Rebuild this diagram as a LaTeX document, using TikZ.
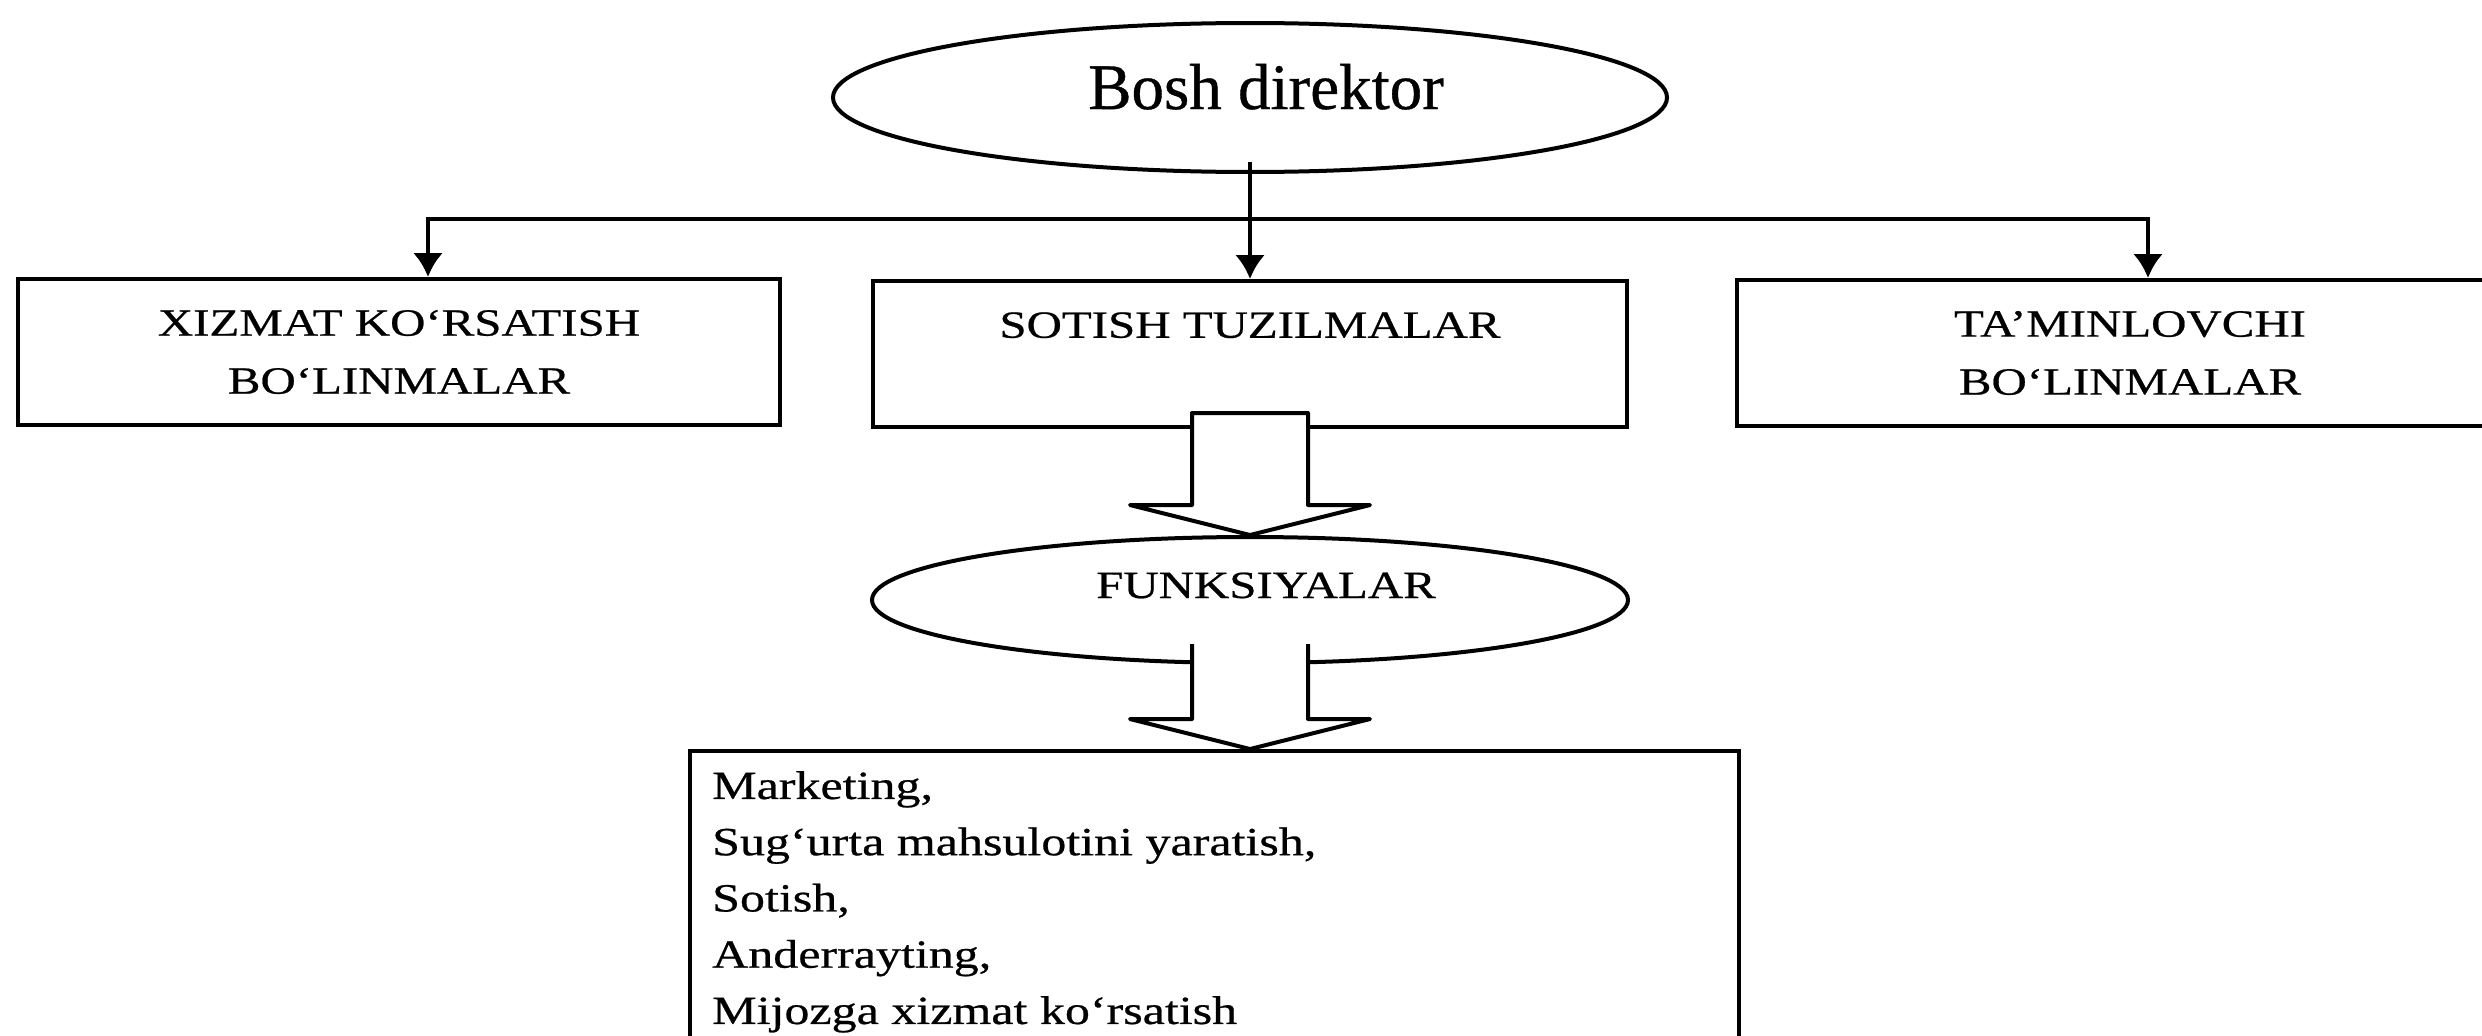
\documentclass[tikz,border=0pt]{standalone}
\usepackage{fontspec}
\setmainfont{Liberation Serif}
\newfontfamily\headfont[FakeBold=0.6]{Liberation Serif}
\newfontfamily\unitfont[FakeStretch=1.27, FakeBold=0.6]{Liberation Serif}
\newfontfamily\listfont[FakeStretch=1.25, FakeBold=0.6]{Liberation Serif}
\usetikzlibrary{shapes.geometric,arrows.meta,calc}
\tikzset{pointer/.tip={Latex[length=24pt,width=30pt]}}
\begin{document}
\begin{tikzpicture}[x=1pt,y=-1pt,
  outline/.style={draw=black, line width=4pt},
  unitbox/.style={outline, rectangle, inner sep=0pt, minimum height=146pt,
    align=center, font=\unitfont\fontsize{38.5}{58}\selectfont},
  oval/.style={outline, ellipse, inner sep=0pt},
  link/.style={line width=4.5pt},
  blockarrow/.style={draw=black, line width=4pt, line join=round}
]
\useasboundingbox (0,0) rectangle (2482,1036);
\clip (0,0) rectangle (2482,1036);

% top of the hierarchy
\node[oval, minimum width=834pt, minimum height=149pt] (boss) at (1250,97.5) {};
\node[anchor=base, inner sep=0pt, font=\headfont\fontsize{65}{70}\selectfont] (bosstext) at (1266,109) {Bosh direktor};

% second level units
\node[unitbox, minimum width=762pt] (service) at (399,352) {XIZMAT KO‘RSATISH\\BO‘LINMALAR};
\node[unitbox, minimum width=754pt] (sales) at (1250,354) {SOTISH TUZILMALAR\\\mbox{}};
\node[unitbox, minimum width=786pt] (supply) at (2130,353) {TA’MINLOVCHI\\BO‘LINMALAR};

% functions of the sales structures
\node[oval, minimum width=756pt, minimum height=126pt] (func) at (1250,600) {};
\node[anchor=base, inner sep=0pt, font=\unitfont\fontsize{38.5}{58}\selectfont] (functext) at (1266,598) {FUNKSIYALAR};

\node[outline, rectangle, anchor=north west, minimum width=1049pt, minimum height=400pt, inner sep=0pt] (duties) at (688,749) {};
\node[anchor=north west, align=left, inner sep=0pt, font=\listfont\fontsize{40}{56.25}\selectfont] (dutylist) at (712,771)
  {Marketing,\\Sug‘urta mahsulotini yaratish,\\Sotish,\\Anderrayting,\\Mijozga xizmat ko‘rsatish};

% connectors from the director
\coordinate (busL) at (428,219);
\coordinate (busR) at (2148,219);
\draw[link, pointer-pointer] (service.north -| busL) -- (busL) -- (busR) -- (supply.north -| busR);
\draw[link, -pointer] ([yshift=12pt]boss.south) -- (sales.north);

% block arrow: sales structures -> functions
\filldraw[blockarrow, fill=white] (func.north) -- ++(-120,-30) -- ++(62,0) -- ++(0,-92)
  -- ++(116,0) -- ++(0,92) -- ++(62,0) -- cycle;

% block arrow: functions -> list of duties (open at the top)
\coordinate (tipB) at (func.south |- duties.north);
\fill[white] (tipB) -- ++(-120,-30) -- ++(62,0) -- ++(0,-75) -- ++(116,0) -- ++(0,75) -- ++(62,0) -- cycle;
\draw[blockarrow] ($(tipB)+(-58,-105)$) -- ++(0,75) -- ++(-62,0) -- (tipB)
  -- ++(120,-30) -- ++(-62,0) -- ++(0,-75);
\end{tikzpicture}
\end{document}
